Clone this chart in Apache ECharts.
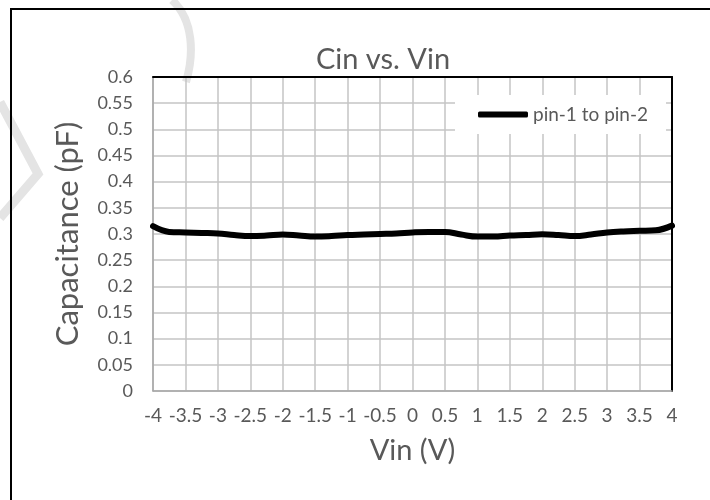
<!DOCTYPE html>
<html>
<head>
<meta charset="utf-8">
<script src="https://cdn.jsdelivr.net/npm/echarts@6/dist/echarts.min.js"></script>
<style>html,body{margin:0;padding:0;background:#fff;}#c{width:710px;height:500px;}</style>
</head>
<body>
<div id="c"></div>
<script>
var vin = [-4,-3.75,-3.5,-3.25,-3,-2.75,-2.5,-2.25,-2,-1.75,-1.5,-1.25,-1,-0.75,-0.5,-0.25,0,0.25,0.5,0.75,1,1.25,1.5,1.75,2,2.25,2.5,2.75,3,3.25,3.5,3.75,4];
var cap = [0.315,0.304,0.303,0.302,0.301,0.298,0.296,0.297,0.299,0.297,0.295,0.296,0.298,0.299,0.300,0.301,0.303,0.304,0.304,0.299,0.295,0.295,0.297,0.298,0.2995,0.298,0.296,0.299,0.303,0.305,0.306,0.307,0.316];
var seriesName = 'pin-1 to pin-2';
var titleText = 'Cin vs. Vin';
var xName = 'Vin (V)';
var yName = 'Capacitance (pF)';

var FONT = 'Lato';
var chart = echarts.init(document.getElementById('c'), null, {renderer: 'canvas'});
var pts = vin.map(function (v, i) { return [v, cap[i]]; });
chart.setOption({
  animation: false,
  backgroundColor: '#fff',
  title: {
    text: titleText, left: 378, top: 40, textAlign: 'center',
    textStyle: {fontFamily: FONT, fontSize: 29, fontWeight: 'normal', color: '#595959'}
  },
  grid: {left: 153, right: 38, top: 77, bottom: 109},
  legend: {
    data: [seriesName], left: 455, top: 95,
    padding: [10, 18, 10, 23], backgroundColor: '#fff',
    icon: 'roundRect', itemWidth: 50, itemHeight: 6,
    itemStyle: {color: '#000'},
    textStyle: {fontFamily: FONT, fontSize: 19, color: '#595959'}
  },
  xAxis: [{
    type: 'value', min: -4, max: 4, interval: 0.5,
    name: xName, nameLocation: 'middle', nameGap: 45,
    nameTextStyle: {fontFamily: FONT, fontSize: 29, color: '#595959'},
    axisLine: {show: true, onZero: false, lineStyle: {color: '#a6a6a6', width: 1.5}},
    axisTick: {show: false},
    axisLabel: {fontFamily: FONT, fontSize: 19, color: '#595959', margin: 15},
    splitLine: {show: true, lineStyle: {color: '#c4c4c4', width: 1.5}}
  }, {
    type: 'value', min: -4, max: 4, interval: 0.5, position: 'top',
    axisLine: {show: true, onZero: false, lineStyle: {color: '#000', width: 2}},
    axisTick: {show: false}, axisLabel: {show: false}, splitLine: {show: false}
  }],
  yAxis: [{
    type: 'value', min: 0, max: 0.6, interval: 0.05,
    name: yName, nameLocation: 'middle', nameGap: 70,
    nameTextStyle: {fontFamily: FONT, fontSize: 31, color: '#595959'},
    axisLine: {show: true, onZero: false, lineStyle: {color: '#a6a6a6', width: 1.5}},
    axisTick: {show: false},
    axisLabel: {fontFamily: FONT, fontSize: 18, color: '#595959', margin: 20},
    splitLine: {show: true, lineStyle: {color: '#c4c4c4', width: 1.5}}
  }, {
    type: 'value', min: 0, max: 0.6, interval: 0.05, position: 'right',
    axisLine: {show: true, onZero: false, lineStyle: {color: '#000', width: 2}},
    axisTick: {show: false}, axisLabel: {show: false}, splitLine: {show: false}
  }],
  series: [{
    name: seriesName, type: 'line', data: pts, smooth: 0.4,
    symbol: 'none', xAxisIndex: 0, yAxisIndex: 0,
    lineStyle: {color: '#000', width: 6, cap: 'round'},
    itemStyle: {color: '#000'}
  }],
  graphic: [
    {type: 'rect', shape: {x: 11, y: 9, width: 740, height: 540}, style: {fill: 'none', stroke: '#000', lineWidth: 2}, z: 100},
    {type: 'bezierCurve', shape: {x1: 172, y1: 0, x2: 186, y2: 82, cpx1: 194, cpy1: 20, cpx2: 194, cpy2: 55}, style: {stroke: '#e4e4e4', lineWidth: 8, fill: 'none'}, z: -1},
    {type: 'polyline', shape: {points: [[0, 102], [38, 174], [0, 218]]}, style: {stroke: '#e4e4e4', lineWidth: 9, fill: 'none'}, z: -1}
  ]
});
</script>
</body>
</html>
